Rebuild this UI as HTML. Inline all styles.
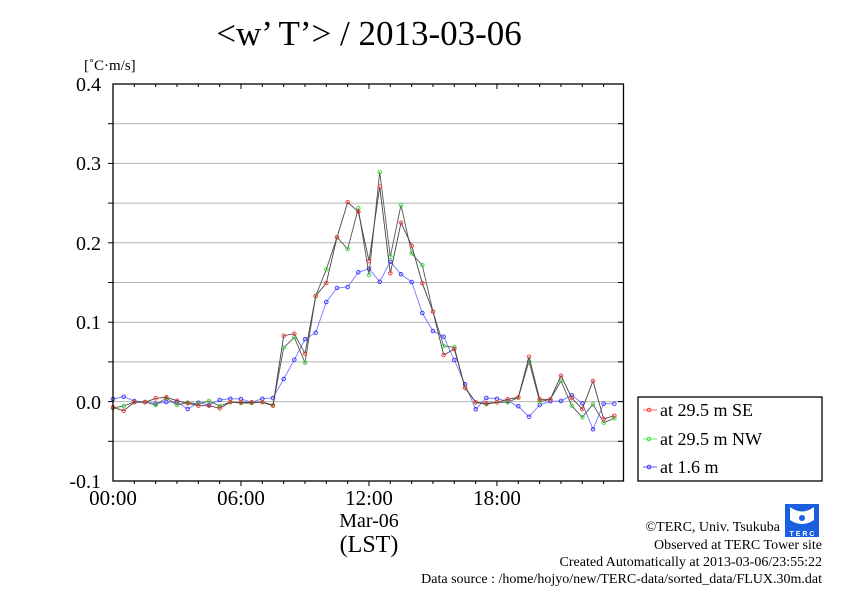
<!DOCTYPE html>
<html><head><meta charset="utf-8"><style>
html,body{margin:0;padding:0;background:#fff;}
svg{display:block;font-family:"Liberation Serif",serif;}
</style></head><body>
<svg id="s" width="842" height="595" xmlns="http://www.w3.org/2000/svg">
<text x="369" y="45" font-size="35" text-anchor="middle">&lt;w’ T’&gt; / 2013-03-06</text>
<text x="84" y="70" font-size="15">[˚C·m/s]</text>
<g font-size="20" text-anchor="end">
<text x="101" y="91">0.4</text><text x="101" y="170">0.3</text><text x="101" y="250">0.2</text><text x="101" y="329">0.1</text><text x="101" y="409">0.0</text><text x="101" y="488">-0.1</text>
</g>
<g font-size="21" text-anchor="middle">
<text x="113" y="505">00:00</text><text x="241" y="505">06:00</text><text x="369" y="505">12:00</text><text x="497" y="505">18:00</text>
<text x="369" y="527" font-size="20">Mar-06</text>
<text x="369" y="552" font-size="24">(LST)</text>
</g>
<g id="grid"></g>
<g id="data"></g>
<rect x="113" y="84" width="510.5" height="397" fill="none" stroke="#000" stroke-width="1.3"/>
<rect x="638" y="397" width="184" height="84" fill="#fff" stroke="#000" stroke-width="1.3"/>
<g font-size="18">
<line x1="643" y1="410" x2="657" y2="410" stroke="#f66"/><circle cx="649" cy="410" r="1.8" fill="none" stroke="#f33"/>
<text x="660" y="416">at 29.5 m SE</text>
<line x1="643" y1="439" x2="657" y2="439" stroke="#6e6"/><circle cx="649" cy="439" r="1.8" fill="none" stroke="#3d3"/>
<text x="660" y="445">at 29.5 m NW</text>
<line x1="643" y1="467" x2="657" y2="467" stroke="#66f"/><circle cx="649" cy="467" r="1.8" fill="none" stroke="#33f"/>
<text x="660" y="473">at 1.6 m</text>
</g>
<g font-size="14" text-anchor="end">
<text x="780" y="531">©TERC, Univ. Tsukuba</text>
<text x="822" y="549">Observed at TERC Tower site</text>
<text x="822" y="566">Created Automatically at 2013-03-06/23:55:22</text>
<text x="822" y="583">Data source : /home/hojyo/new/TERC-data/sorted_data/FLUX.30m.dat</text>
</g>
<rect x="785" y="504" width="34" height="33" fill="#1a5fe0"/>
<path d="M790 507 Q802 516 814 507 L814 520 Q802 528 790 520Z" fill="#fff"/>
<circle cx="802" cy="518" r="3" fill="#1a5fe0"/>
<text x="802" y="536" font-size="7" fill="#fff" text-anchor="middle" font-family="Liberation Sans,sans-serif" font-weight="bold">T E R C</text>
</svg>
<script>
var NS="http://www.w3.org/2000/svg";
function el(p,t,a){var e=document.createElementNS(NS,t);for(var k in a)e.setAttribute(k,a[k]);p.appendChild(e);return e;}
var g=document.getElementById('grid');
for(var i=1;i<10;i++){var y=84+i*39.7;el(g,'line',{x1:113,x2:623.5,y1:y,y2:y,stroke:'#b4b4b4','stroke-width':1});
el(g,'line',{x1:623.5,x2:618,y1:y,y2:y,stroke:'#000'});}
for(var h=1;h<24;h++){var x=113+h*21.33;var L=(h%6==0)?5:3;
el(g,'line',{x1:x,x2:x,y1:84,y2:84+L,stroke:'#000'});el(g,'line',{x1:x,x2:x,y1:481,y2:481+L,stroke:'#000'});}
for(var i=1;i<10;i++){var y=84+i*39.7;el(g,'line',{x1:108,x2:113,y1:y,y2:y,stroke:'#000'});}
var R=[407.3,410.7,402.3,402.3,398.3,397.3,400.7,403.3,405.7,405.7,408.3,402.3,402.3,402.3,402.3,405.7,335.7,333.7,353.7,296,283,237.3,202.3,211.7,261,186.7,273.3,222.7,245.7,283.3,311.7,355,349,387.7,402.3,403.3,402.3,399.3,397.3,356.7,399.3,399.3,375.7,398,409,381,419,415.7];
var G=[408,406,402,402,405,398,405,402.5,404,401,406,402,403,403,402,405,347.7,337.3,362.7,296,269.3,237.3,249,208.3,275,172,256.7,205,253.3,265.3,311.7,346,347.3,387.7,402.3,404.3,402.3,402.3,397.7,361.3,401.7,399.3,381,405.7,417.3,404.3,422.7,418.3];
var B=[399,396.7,401,402,403.7,402,402,409,402.7,405,400,398.7,399,402.3,398.7,398,379,359.7,339.3,332.7,302,288,287,272.3,268.7,281.7,261.7,274.3,282,313,331,336.7,360,384.3,409.3,398,398.7,401,406.3,416.7,405,401.3,401,395.3,403.3,429.3,403.7,403.7];
var d=document.getElementById('data');
function ser(a,lc,mc){var p='';for(var i=0;i<a.length;i++)p+=(i?'L':'M')+(113+10.667*i).toFixed(1)+' '+a[i];
el(d,'path',{d:p,fill:'none',stroke:lc,'stroke-width':0.9});
for(var i=0;i<a.length;i++)el(d,'circle',{cx:113+10.667*i,cy:a[i],r:1.8,fill:'none',stroke:mc,'stroke-width':0.9});}
ser(B,'#77f','#33f');ser(G,'#555','#3d3');ser(R,'#444','#f33');
</script>
</body></html>
